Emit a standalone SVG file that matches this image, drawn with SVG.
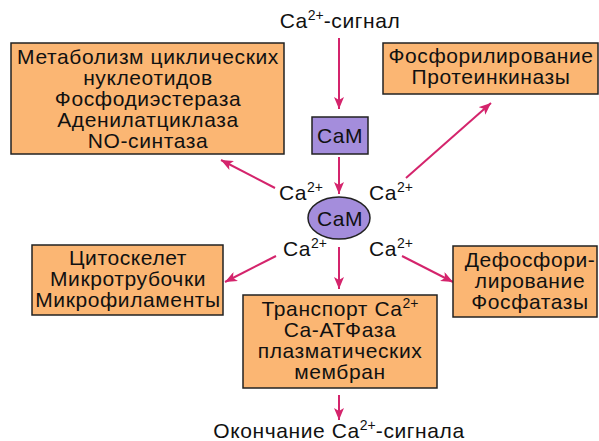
<svg xmlns="http://www.w3.org/2000/svg" width="599" height="441" viewBox="0 0 599 441">
<defs>
<marker id="ah" markerUnits="userSpaceOnUse" markerWidth="14" markerHeight="10" refX="12" refY="5" orient="auto">
<path d="M0,0 L12,5 L0,10 L3,5 Z" fill="#d4246c"/>
</marker>
</defs>
<style>
text{font-family:"Liberation Sans",Arial,sans-serif;font-size:21px;letter-spacing:0.6px;fill:#111;text-anchor:middle}
.l{text-anchor:start}
.sup{font-size:14px;letter-spacing:0}
.box{fill:#fbb673;stroke:#222;stroke-width:1.5}
.cam{fill:#a48ddc;stroke:#222;stroke-width:1.5}
.arr{stroke:#d4246c;stroke-width:2;fill:none;marker-end:url(#ah)}
</style>
<rect width="599" height="441" fill="#fff"/>
<g id="connectors">
<line class="arr" x1="339" y1="38" x2="339" y2="109"/>
<line class="arr" x1="339" y1="157" x2="339" y2="194"/>
<line class="arr" x1="275" y1="188" x2="221" y2="160"/>
<line class="arr" x1="406" y1="178" x2="491" y2="103"/>
<line class="arr" x1="276" y1="256" x2="225" y2="282"/>
<line class="arr" x1="402" y1="256" x2="453" y2="282"/>
<line class="arr" x1="339" y1="247" x2="339" y2="289"/>
<line class="arr" x1="339" y1="395" x2="339" y2="420"/>
</g>
<g id="signal-start">
<text x="340" y="28">Ca<tspan class="sup" dy="-8">2+</tspan><tspan dy="8">-сигнал</tspan></text>
</g>
<g id="metabolism">
<rect class="box" x="11" y="43" width="273" height="111"/>
<text x="148" y="64">Метаболизм циклических</text>
<text x="148" y="85">нуклеотидов</text>
<text x="148" y="106">Фосфодиэстераза</text>
<text x="148" y="127">Аденилатциклаза</text>
<text x="148" y="148">NO-синтаза</text>
</g>
<g id="phospho">
<rect class="box" x="383" y="43" width="215" height="51"/>
<text x="491" y="63">Фосфорилирование</text>
<text x="491" y="84">Протеинкиназы</text>
</g>
<g id="cam-box">
<rect class="cam" x="312" y="117" width="56" height="37"/>
<text x="340" y="143">CaM</text>
</g>
<g id="cam-ellipse">
<ellipse class="cam" cx="339" cy="218" rx="31" ry="21"/>
<text x="340" y="226">CaM</text>
</g>
<g id="ca-labels">
<text class="l" x="279" y="200">Ca<tspan class="sup" dy="-8">2+</tspan></text>
<text class="l" x="369" y="200">Ca<tspan class="sup" dy="-8">2+</tspan></text>
<text class="l" x="283" y="256">Ca<tspan class="sup" dy="-8">2+</tspan></text>
<text class="l" x="369" y="256">Ca<tspan class="sup" dy="-8">2+</tspan></text>
</g>
<g id="cytoskeleton">
<rect class="box" x="32" y="245" width="191" height="70"/>
<text x="128" y="265">Цитоскелет</text>
<text x="128" y="286">Микротрубочки</text>
<text x="128" y="307">Микрофиламенты</text>
</g>
<g id="dephospho">
<rect class="box" x="453" y="246" width="144" height="71"/>
<text x="530" y="267">Дефосфори-</text>
<text x="530" y="288">лирование</text>
<text x="530" y="309">Фосфатазы</text>
</g>
<g id="transport">
<rect class="box" x="243" y="295" width="194" height="93"/>
<text x="340" y="316">Транспорт Ca<tspan class="sup" dy="-8">2+</tspan></text>
<text x="340" y="337">Ca-АТФаза</text>
<text x="340" y="358">плазматических</text>
<text x="340" y="379">мембран</text>
</g>
<g id="signal-end">
<text x="339" y="438">Окончание Ca<tspan class="sup" dy="-8">2+</tspan><tspan dy="8">-сигнала</tspan></text>
</g>
</svg>
